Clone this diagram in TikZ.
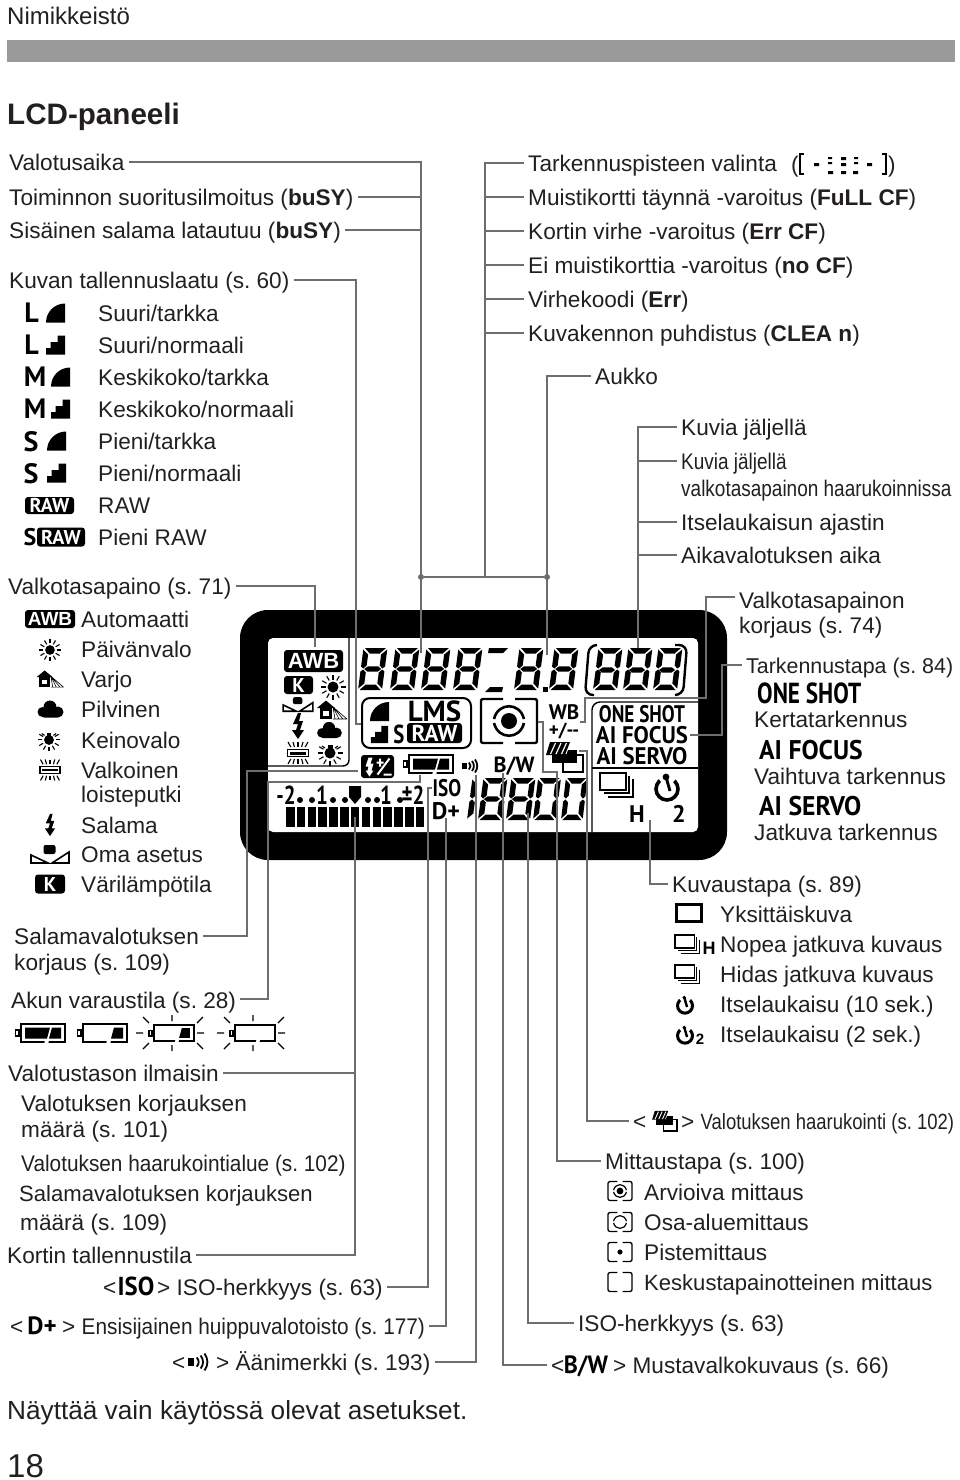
\documentclass[tikz,border=0pt]{standalone}
\usepackage{fontspec}
\usepackage{tikz}
\setmainfont{Liberation Sans}
\newfontfamily\narrowfont[FakeStretch=0.84]{Liberation Sans}
\newfontfamily\midfont[FakeStretch=0.92]{Liberation Sans}
\newfontfamily\lcdfont[FakeStretch=0.8]{PT Sans}
\newfontfamily\lcdmid[FakeStretch=0.95]{PT Sans}
\newfontfamily\lcdwide{PT Sans}
\newcommand{\fs}[1]{\fontsize{#1}{#1}\selectfont\frenchspacing}
\definecolor{ink}{HTML}{231F20}
\definecolor{linegray}{HTML}{6E6E6E}
\definecolor{bargray}{HTML}{9A9A9A}

\begin{document}
\begin{tikzpicture}[
    x=1pt, y=-1pt,
    lbl/.style={anchor=west, inner sep=0pt, text=ink, text height=16pt, text depth=0pt, font=\fs{22.6}},
    nar/.style={lbl, font=\fs{22.6}\narrowfont},
    conn/.style={draw=linegray, line width=2pt, shorten <=4pt},
    jdot/.style={circle, fill=linegray, inner sep=0pt, minimum size=6pt},
    lcdtxt/.style={inner sep=0pt, text=black, text depth=0pt, font=\fs{24}\lcdfont\bfseries},
    bigtxt/.style={inner sep=0pt, text=black, text depth=0pt, font=\fs{28}\lcdwide\bfseries},
    badge/.style={fill=black, text=white, rounded corners=3pt, inner sep=0pt, font=\fs{20}\lcdwide\bfseries},
    icfine/.pic={\fill (-9.5,9.5) .. controls (-9.5,-1) and (-1,-9.5) .. (9.5,-9.5) -- (9.5,9.5) -- cycle;},
    icnorm/.pic={\fill (-9.5,9.5) -- (-9.5,3) -- (-5,3) -- (-5,-3) -- (2,-3) -- (2,-9.5) -- (9.5,-9.5) -- (9.5,9.5) -- cycle;},
    icsun/.pic={
        \fill (0,0) circle (5.5);
        \foreach \a in {0,30,...,330} {\draw[line width=1.1pt] (\a:7.5) -- (\a:12.5);}
    },
    iclamp/.pic={
        \fill (0,1) circle (5.5);
        \fill (-2.5,-7) rectangle (2.5,-2);
        \foreach \a in {-30,0,...,210} {\draw[line width=1.1pt] ([shift={(0,1)}]\a:7.5) -- ([shift={(0,1)}]\a:12.5);}
        \draw[line width=1.1pt] (-8,-6) -- (-5,-4) (8,-6) -- (5,-4);
    },
    icshade/.pic={
        \fill (-15,-2) -- (-6,-9.5) -- (3,-2) -- cycle;
        \fill (-12,-2) rectangle (0,9);
        \fill[white] (-9,1) rectangle (-3,6);
        \draw[line width=.6pt] (1,-3) -- (3,9) (1,-3) -- (7,9) (1,-3) -- (11,9) (1,-3) -- (15,9) (1,9) -- (15,9);
    },
    iccloud/.pic={
        \fill (0,-2) circle (6.5);
        \fill (-7.5,3) circle (5);
        \fill (8,3) circle (5.5);
        \fill[rounded corners=2pt] (-8,2) rectangle (9,8.5);
    },
    icbolt/.pic={\fill (0,-13) -- (-5,-2) -- (0,-2) -- (-2,4) -- (-6,4) -- (0,13) -- (6,4) -- (2,4) -- (5,-5) -- (1,-5) -- (3,-13) -- cycle;},
    iccustom/.pic={
        \fill[rounded corners=2pt] (-6.5,-10) rectangle (5.5,-1);
        \draw[line width=1.6pt] (-19,0) -- (-19,8) -- (-2,8) -- cycle (19,-3) -- (19,8) -- (2,8) -- cycle;
    },
    icfluoro/.pic={
        \draw[line width=1.6pt] (-10.5,-3.5) rectangle (10.5,3.5);
        \fill (-8,-1.5) rectangle (8,1.5);
        \foreach \t in {-8,-4,0,4,8} {\draw[line width=1.1pt] (0.9*\t,-6) -- (1.25*\t,-11) (0.9*\t,6) -- (1.25*\t,11);}
    },
    icbattery/.pic={
        \draw[line width=1.6pt] (-24.5,-3) rectangle (-21,3);
        \draw[line width=2pt] (-19,-9) rectangle (25,9);
        \fill[white] (5,7.5) -- (9,7.5) -- (8,11) -- (4,11) -- cycle;
    },
    icbattfull/.pic={
        \fill (-15,-5.5) -- (10,-5.5) -- (7,5.5) -- (-15,5.5) -- cycle;
        \fill (12,-5.5) -- (21,-5.5) -- (21,5.5) -- (9,5.5) -- cycle;
    },
    icbattlow/.pic={\fill (12,-5.5) -- (21,-5.5) -- (21,5.5) -- (9,5.5) -- cycle;},
    icblink/.pic={\draw[line width=1.1pt] (0,-18) -- (0,-12) (0,18) -- (0,12) (-36,0) -- (-29,0) (25,0) -- (32,0)
        (-29,-16) -- (-23,-10) (25,-10) -- (31,-16) (-29,16) -- (-23,10) (25,10) -- (31,16);},
    icbeep/.pic={
        \fill (-8,-3) rectangle (-3,3);
        \draw[line width=1.8pt] (-1,-3.5) .. controls (1,-1.5) and (1,1.5) .. (-1,3.5);
        \draw[line width=1.8pt] (2,-5) .. controls (4.5,-2) and (4.5,2) .. (2,5);
        \draw[line width=1.8pt] (5,-6.5) .. controls (8,-2.5) and (8,2.5) .. (5,6.5);
    },
    pics/icbrackets/.style={code={\draw[line width=#1, rounded corners=2pt] (-6,-22) -- (-28,-22) -- (-28,22) -- (-6,22) (6,-22) -- (28,-22) -- (28,22) -- (6,22);}},
    pics/icarcs/.style={code={\draw[line width=#1] (-15,-2) .. controls (-11,-19) and (11,-19) .. (15,-2) (-15,2) .. controls (-11,19) and (11,19) .. (15,2);}},
    pics/icaeb/.style={code={
        \draw[line width=#1] (-1.5,-2) rectangle (18.5,15);
        \fill (-13,-7) rectangle (12,6);
        \fill[white] (-20,-3) -- (-15,-17) -- (7,-17) -- (2,-3) -- cycle;
        \fill (-18.5,-2) -- (-14.5,-15) -- (5.5,-15) -- (.5,-2) -- cycle;
        \draw[white, line width=.6*#1] (-14,-3) -- (-9,-14) (-8.5,-3) -- (-3.5,-14) (-3,-3) -- (2,-14);
    }},
    icsingle/.pic={\draw[line width=3pt] (-12.5,-8.5) rectangle (12.5,8.5);},
    pics/icdrive/.style={code={
        \draw[line width=#1] (-18,-14) rectangle (8,3);
        \draw[line width=.55*#1] (11,-11) -- (11,6) -- (-14,6) (15,-8) -- (15,10) -- (-10,10);
    }},
    pics/ictimer/.style={code={
        \draw[line width=#1] (0,1) circle (11);
        \fill[white] (0,1) -- (-14,-16) -- (15,-16) -- cycle;
        \fill (-1,-11) circle (.95*#1);
        \draw[line width=.8*#1] (-1,-11) -- (3,3);
    }},
    icflashcomp/.pic={
        \fill[rounded corners=3pt] (-16.5,-11.5) rectangle (16.5,11.5);
        \fill[white] (-9,-9) -- (-12,0) -- (-9,0) -- (-10,4) -- (-12,4) -- (-8,10) -- (-4,4) -- (-6,4) -- (-4,-3) -- (-7,-3) -- (-5,-9) -- cycle;
        \draw[white, line width=2pt] (-1,-4) -- (6,-4) (2.5,-8) -- (2.5,0) (0,8) -- (12,-8) (6,8) -- (14,8);
    },
    icafpoints/.pic={
        \draw[line width=2.6pt] (-39,-10) -- (-43,-10) -- (-43,10) -- (-39,10) (39,-10) -- (43,-10) -- (43,10) -- (39,10);
        \fill (-29,-1) rectangle (-24,2) (24,-1) rectangle (29,2);
        \fill (-15,-7) rectangle (-11,-5) (-15,-2) rectangle (-11,0) (-15,7) rectangle (-10,10);
        \fill (-2,-7) rectangle (3,-4) (-2,-1) rectangle (3,2) (-2,7) rectangle (3,10);
        \fill (11,-7) rectangle (15,-5) (11,-2) rectangle (15,0) (10,7) rectangle (15,10);
    },
    segzero/.pic={
        \begin{scope}[xslant=.13]
        \fill (1.5,-42) -- (22.5,-42) -- (17,-36.5) -- (7,-36.5) -- cycle;
        \fill (1.5,0) -- (22.5,0) -- (17,-5.5) -- (7,-5.5) -- cycle;
        \fill (0,-40.5) -- (5.5,-35.5) -- (5.5,-24.5) -- (2.5,-21.5) -- (0,-23.5) -- cycle;
        \fill (0,-1.5) -- (5.5,-6.5) -- (5.5,-17.5) -- (2.5,-20.5) -- (0,-18.5) -- cycle;
        \fill (24,-40.5) -- (18.5,-35.5) -- (18.5,-24.5) -- (21.5,-21.5) -- (24,-23.5) -- cycle;
        \fill (24,-1.5) -- (18.5,-6.5) -- (18.5,-17.5) -- (21.5,-20.5) -- (24,-18.5) -- cycle;
        \end{scope}
    },
    segeight/.pic={
        \pic {segzero};
        \begin{scope}[xslant=.13]
        \fill (3.5,-21) -- (7,-23.7) -- (17,-23.7) -- (20.5,-21) -- (17,-18.3) -- (7,-18.3) -- cycle;
        \end{scope}
    },
    segone/.pic={
        \begin{scope}[xslant=.13]
        \fill (0,-40.5) -- (5.5,-35.5) -- (5.5,-24.5) -- (2.5,-21.5) -- (0,-23.5) -- cycle;
        \fill (0,-1.5) -- (5.5,-6.5) -- (5.5,-17.5) -- (2.5,-20.5) -- (0,-18.5) -- cycle;
        \end{scope}
    }
]
\useasboundingbox (0,0) rectangle (960,1480);

\node[lbl, font=\fs{24}] (pageHead) at (7,17) {Nimikkeistö};
\fill[bargray] (7,40) rectangle (955,62);
\node[lbl, font=\fs{29.6}\bfseries] (pageTitle) at (7,116.5) {LCD-paneeli};
\node[lbl, font=\fs{26.2}] (pageNote) at (7,1411) {Näyttää vain käytössä olevat asetukset.};
\node[lbl, font=\fs{33}] (pageNum) at (7,1469) {18};

\fill[black, rounded corners=28pt] (240,610) rectangle (727,860);
\fill[white, rounded corners=5pt] (268,638) rectangle (698,832);
\draw[line width=1.4pt, rounded corners=6pt] (349,638) -- (349,766) -- (268,766);
\draw[line width=1.4pt, rounded corners=8pt] (698,702) -- (592,702) -- (592,832);
\draw[line width=1.4pt] (592,768) -- (698,768);
\draw[line width=2pt, rounded corners=8pt] (362,698) rectangle (471,748);

\node[badge, minimum width=59pt, minimum height=22pt, font=\fs{22}\bfseries] (lcdAwb) at (313.5,661) {AWB};
\node[badge, minimum width=29pt, minimum height=18pt] (lcdKelvin) at (298.5,685) {K};
\pic at (333,687) {icsun};
\pic[scale=.78] at (298,705) {iccustom};
\pic at (332,710) {icshade};
\pic at (298,726) {icbolt};
\pic[scale=.95] at (329,730) {iccloud};
\pic at (298,753) {icfluoro};
\pic at (330,752) {iclamp};

\foreach \px in {358,390,421,453} {\pic at (\px,690) {segeight};}
\fill (488,653) -- (489,648) -- (508,648) -- (503,653) -- cycle;
\fill (485,692) -- (490,687) -- (503,687) -- (502,692) -- cycle;
\pic at (514,690) {segeight};
\fill (543,687) rectangle (548,692);
\pic at (549,690) {segeight};
\draw[line width=2.4pt, rounded corners=8pt] (597,645) -- (589,645) -- (585,695) -- (594,695);
\draw[line width=2.4pt, rounded corners=8pt] (675,645) -- (687,645) -- (683,695) -- (675,695);
\pic[scale=.95] at (593,690) {segeight};
\pic[scale=.95] at (623,690) {segeight};
\pic[scale=.95] at (653,690) {segeight};

\pic at (379.5,711.5) {icfine};
\pic[scale=.9] at (379.5,734.5) {icnorm};
\node[bigtxt, font=\fs{29}\lcdwide\bfseries] (lcdLms) at (434.5,711) {LMS};
\node[lcdtxt, font=\fs{26}\lcdfont\bfseries] (lcdSmall) at (399,734) {S};
\node[badge, minimum width=55pt, minimum height=20pt, font=\fs{23}\lcdwide\bfseries] (lcdRaw) at (434.5,733) {RAW};
\pic at (377.5,766.5) {icflashcomp};
\pic at (428,764) {icbattery};
\pic at (428,764) {icbattfull};
\pic at (470,766) {icbeep};

\node[lcdtxt, font=\fs{26}\lcdfont\bfseries] (lcdMinusTwo) at (286,795) {-2};
\node[lcdtxt, font=\fs{26}\lcdfont\bfseries] (lcdOneLeft) at (322,795) {1};
\node[lcdtxt, font=\fs{26}\lcdfont\bfseries] (lcdOneRight) at (386,795) {1};
\node[lcdtxt, font=\fs{26}\lcdfont\bfseries] (lcdPlusTwo) at (413,795) {±2};
\fill (349,786) -- (361,786) -- (361,797) -- (355,804) -- (349,797) -- cycle;
\foreach \px in {300,312,333,345,368,377,400} {\fill (\px,800) circle (3);}
\foreach \px in {0,...,12} {\fill (286+10.83*\px,807) rectangle (294.5+10.83*\px,827);}

\node[lcdtxt] (lcdIso) at (447,788) {ISO};
\node[lcdtxt, font=\fs{24}\lcdwide\bfseries] (lcdDplus) at (446,811) {D+};
\pic at (467,820) {segone};
\pic[xscale=.95] at (478,820) {segeight};
\pic[xscale=.95] at (506,820) {segeight};
\pic[xscale=.95] at (533,820) {segzero};
\pic[xscale=.9] at (561,820) {segzero};

\pic at (509,721) {icbrackets=2.4pt};
\pic at (509,721) {icarcs=2.6pt};
\fill (509,721) circle (8);
\node[lcdtxt, font=\fs{22}\lcdwide\bfseries] (lcdBw) at (514,765) {B/W};
\node[lcdtxt, font=\fs{21}\lcdwide\bfseries] (lcdWb) at (564,712) {WB};
\node[lcdtxt, font=\fs{19}\lcdwide\bfseries] (lcdComp) at (564,730) {+/--};
\pic at (564.5,757) {icaeb=2pt};
\node[lcdtxt] (lcdOneShot) at (642,714) {ONE SHOT};
\node[lcdtxt, font=\fs{24}\lcdmid\bfseries] (lcdAiFocus) at (642,735) {AI FOCUS};
\node[lcdtxt, font=\fs{24}\lcdmid\bfseries] (lcdAiServo) at (642,756) {AI SERVO};
\pic at (618,787) {icdrive=2.3pt};
\pic at (667,788) {ictimer=3.6pt};
\node[lcdtxt, font=\fs{24}\lcdwide\bfseries] (lcdHigh) at (637,814) {H};
\node[lcdtxt, font=\fs{24}\lcdwide\bfseries] (lcdTwo) at (679,814) {2};

\node[lbl] (shutter) at (9,162) {Valotusaika};
\node[lbl] (busyAction) at (9,197) {Toiminnon suoritusilmoitus (\textbf{buSY})};
\node[lbl] (busyFlash) at (9,230) {Sisäinen salama latautuu (\textbf{buSY})};
\node[lbl] (quality) at (9,280) {Kuvan tallennuslaatu (s. 60)};

\node[bigtxt] (largeFine) at (31.5,313) {L};
\pic at (55.5,313) {icfine};
\node[bigtxt] (largeNorm) at (31.5,345) {L};
\pic at (55.5,345) {icnorm};
\node[bigtxt] (mediumFine) at (35,377) {M};
\pic at (60.5,377) {icfine};
\node[bigtxt] (mediumNorm) at (35,409) {M};
\pic at (60.5,409) {icnorm};
\node[bigtxt] (smallFine) at (31,441) {S};
\pic at (56.5,441) {icfine};
\node[bigtxt] (smallNorm) at (31,473) {S};
\pic at (56.5,473) {icnorm};
\node[badge, minimum width=49pt, minimum height=17pt] (rawBadge) at (49.5,505.5) {RAW};
\node[bigtxt, font=\fs{24}\lcdwide\bfseries] (smallRawS) at (30,537) {S};
\node[badge, minimum width=48pt, minimum height=19pt] (smallRawBadge) at (61,537) {RAW};

\node[lbl] (qualA) at (98,313) {Suuri/tarkka};
\node[lbl] (qualB) at (98,345) {Suuri/normaali};
\node[lbl] (qualC) at (98,377) {Keskikoko/tarkka};
\node[lbl] (qualD) at (98,409) {Keskikoko/normaali};
\node[lbl] (qualE) at (98,441) {Pieni/tarkka};
\node[lbl] (qualF) at (98,473) {Pieni/normaali};
\node[lbl] (qualG) at (98,505) {RAW};
\node[lbl] (qualH) at (98,537) {Pieni RAW};

\node[lbl] (wbTitle) at (8,586) {Valkotasapaino (s. 71)};
\node[badge, minimum width=50pt, minimum height=18pt, font=\fs{19}\bfseries] (awbBadge) at (50,619) {AWB};
\pic[scale=.88] at (50,650) {icsun};
\pic[scale=.9] at (50,679) {icshade};
\pic at (50,709) {iccloud};
\pic[scale=.9] at (49,739) {iclamp};
\pic[scale=.95] at (50,770) {icfluoro};
\pic[scale=.85] at (50,825) {icbolt};
\pic at (50,855) {iccustom};
\node[badge, minimum width=30pt, minimum height=19pt] (kelvinBadge) at (50,884) {K};

\node[lbl] (wbA) at (81,619) {Automaatti};
\node[lbl] (wbB) at (81,649) {Päivänvalo};
\node[lbl] (wbC) at (81,679) {Varjo};
\node[lbl] (wbD) at (81,709) {Pilvinen};
\node[lbl] (wbE) at (81,740) {Keinovalo};
\node[lbl] (wbF) at (81,770) {Valkoinen};
\node[lbl] (wbFb) at (81,794) {loisteputki};
\node[lbl] (wbG) at (81,825) {Salama};
\node[lbl] (wbH) at (81,854) {Oma asetus};
\node[lbl] (wbI) at (81,884) {Värilämpötila};

\node[lbl] (flashComp) at (14,936) {Salamavalotuksen};
\node[lbl] (flashCompB) at (14,962) {korjaus (s. 109)};
\node[lbl] (battTitle) at (11,1000) {Akun varaustila (s. 28)};
\pic at (40,1033) {icbattery};
\pic at (40,1033) {icbattfull};
\pic at (102,1033) {icbattery};
\pic at (102,1033) {icbattlow};
\pic[scale=.9] at (171,1033) {icbattery};
\pic[scale=.9] at (171,1033) {icbattlow};
\pic at (172,1033) {icblink};
\pic[scale=.9] at (252,1033) {icbattery};
\pic at (253,1033) {icblink};

\node[lbl] (meterTitle) at (8,1073) {Valotustason ilmaisin};
\node[lbl] (meterA) at (21,1103) {Valotuksen korjauksen};
\node[lbl] (meterB) at (21,1129) {määrä (s. 101)};
\node[lbl, font=\fs{22.6}\midfont] (meterC) at (21,1163) {Valotuksen haarukointialue (s. 102)};
\node[lbl, font=\fs{22.1}] (meterD) at (19,1193) {Salamavalotuksen korjauksen};
\node[lbl] (meterE) at (20,1222) {määrä (s. 109)};
\node[lbl] (cardTitle) at (7,1255) {Kortin tallennustila};

\node[lbl] (isoLt) at (103,1287) {<};
\node[lcdtxt, font=\fs{26}\lcdmid\bfseries] (isoIcon) at (136,1286) {ISO};
\node[lbl] (isoLabel) at (157,1287) {> ISO-herkkyys (s. 63)};
\node[lbl] (dplusLt) at (10,1326) {<};
\node[lcdtxt, font=\fs{25}\lcdwide\bfseries] (dplusIcon) at (42,1326) {D+};
\node[lbl] (dplusLabel) at (62,1326) {> {\midfont Ensisijainen huippuvalotoisto (s. 177)}};
\node[lbl] (beepLt) at (172,1362) {<};
\pic[scale=1.3] at (198,1362) {icbeep};
\node[lbl] (beepLabel) at (216,1362) {> Äänimerkki (s. 193)};

\node[lbl] (focusPoints) at (528,163) {Tarkennuspisteen valinta};
\node[lbl] (afOpen) at (791,164) {(};
\pic at (843,164) {icafpoints};
\node[lbl] (afClose) at (888,164) {)};
\node[lbl] (warnFull) at (528,197) {Muistikortti täynnä -varoitus (\textbf{FuLL CF})};
\node[lbl] (warnErr) at (528,231) {Kortin virhe -varoitus (\textbf{Err CF})};
\node[lbl] (warnNoCard) at (528,265) {Ei muistikorttia -varoitus (\textbf{no CF})};
\node[lbl] (errCode) at (528,299) {Virhekoodi (\textbf{Err})};
\node[lbl] (sensorClean) at (528,333) {Kuvakennon puhdistus (\textbf{CLEA n})};
\node[lbl] (aperture) at (595,376) {Aukko};

\node[lbl] (remaining) at (681,427) {Kuvia jäljellä};
\node[nar] (remainingWb) at (681,461) {Kuvia jäljellä};
\node[nar] (remainingWbB) at (681,488) {valkotasapainon haarukoinnissa};
\node[lbl] (timerCount) at (681,522) {Itselaukaisun ajastin};
\node[lbl] (bulbTime) at (681,555) {Aikavalotuksen aika};

\node[lbl] (wbShift) at (739,600) {Valkotasapainon};
\node[lbl] (wbShiftB) at (739,625) {korjaus (s. 74)};
\node[lbl, font=\fs{21.4}] (afMode) at (746,665) {Tarkennustapa (s. 84)};
\node[lcdtxt, font=\fs{29}\lcdfont\bfseries, anchor=west] (oneShot) at (757,693) {ONE SHOT};
\node[lbl] (oneShotB) at (754,719) {Kertatarkennus};
\node[lcdtxt, font=\fs{27}\lcdmid\bfseries, anchor=west] (aiFocus) at (759,750) {AI FOCUS};
\node[lbl] (aiFocusB) at (754,776) {Vaihtuva tarkennus};
\node[lcdtxt, font=\fs{27}\lcdmid\bfseries, anchor=west] (aiServo) at (759,806) {AI SERVO};
\node[lbl] (aiServoB) at (754,832) {Jatkuva tarkennus};

\node[lbl] (driveTitle) at (672,884) {Kuvaustapa (s. 89)};
\pic at (688.5,913) {icsingle};
\pic[scale=.75] at (688.5,945.5) {icdrive=1.8pt};
\node[lcdtxt, font=\fs{18}\bfseries] (driveHigh) at (709,948) {H};
\pic[scale=.75] at (688.5,975.5) {icdrive=1.8pt};
\pic[scale=.68] at (685,1005) {ictimer=3pt};
\pic[scale=.68] at (685,1035) {ictimer=3pt};
\node[lcdtxt, font=\fs{15}\bfseries] (timerTwo) at (700,1039) {2};
\node[lbl] (driveA) at (720,914) {Yksittäiskuva};
\node[lbl] (driveB) at (720,944) {Nopea jatkuva kuvaus};
\node[lbl] (driveC) at (720,974) {Hidas jatkuva kuvaus};
\node[lbl] (driveD) at (720,1004) {Itselaukaisu (10 sek.)};
\node[lbl] (driveE) at (720,1034) {Itselaukaisu (2 sek.)};

\node[lbl] (aebLt) at (633,1121) {<};
\pic[scale=.67] at (664.5,1121) {icaeb=1.5pt};
\node[lbl] (aebLabel) at (681,1121) {> {\fs{22}\narrowfont Valotuksen haarukointi (s. 102)}};
\node[lbl] (meterMode) at (605,1161) {Mittaustapa (s. 100)};
\pic[scale=.43] at (620,1191) {icbrackets=1.3pt};
\pic[scale=.43] at (620,1191) {icarcs=1.2pt};
\fill (620,1191) circle (3.4);
\pic[scale=.43] at (620,1222) {icbrackets=1.3pt};
\pic[scale=.43] at (620,1222) {icarcs=1.2pt};
\pic[scale=.43] at (620,1252) {icbrackets=1.3pt};
\fill (620,1252) circle (2.6);
\pic[scale=.43] at (620,1282) {icbrackets=1.3pt};
\node[lbl] (modeA) at (644,1192) {Arvioiva mittaus};
\node[lbl] (modeB) at (644,1222) {Osa-aluemittaus};
\node[lbl] (modeC) at (644,1252) {Pistemittaus};
\node[lbl, font=\fs{22.06}] (modeD) at (644,1282) {Keskustapainotteinen mittaus};
\node[lbl] (isoRight) at (578,1323) {ISO-herkkyys (s. 63)};
\node[lbl] (bwLt) at (551,1365) {<};
\node[lcdtxt, font=\fs{25}\lcdmid\bfseries] (bwIcon) at (586,1365) {B/W};
\node[lbl] (bwLabel) at (613,1365) {> Mustavalkokuvaus (s. 66)};

\coordinate (tipShutter) at (421,653);
\coordinate (tipQuality) at (356,724);
\coordinate (tipQualityEnd) at (361,724);
\coordinate (tipWb) at (315,647);
\coordinate (bendFlash) at (247,771);
\coordinate (tipFlash) at (358,771);
\coordinate (bendBatt) at (268,782);
\coordinate (tipBatt) at (420,775);
\coordinate (tipMeter) at (355,817);
\coordinate (bendIso) at (428,788);
\coordinate (tipIso) at (432,788);
\coordinate (tipDplus) at (446,818);
\coordinate (tipBeep) at (476,775);
\coordinate (tipBw) at (503,773);
\coordinate (tipIsoDigits) at (528,813);
\coordinate (bendModeA) at (557,772);
\coordinate (bendModeB) at (543,722);
\coordinate (tipMode) at (538,722);
\coordinate (bendAeb) at (587,751);
\coordinate (tipAeb) at (579,751);
\coordinate (tipDrive) at (650,820);
\coordinate (tipRemaining) at (638,648);
\coordinate (tipGroup) at (485,577);
\coordinate (tipAperture) at (547,655);
\coordinate (bendShiftA) at (706,698);
\coordinate (bendShiftB) at (585,722);
\coordinate (tipShift) at (580,722);
\coordinate (bendAf) at (722,735);
\coordinate (tipAf) at (690,735);

\node[jdot] (dotLeft) at (421,577) {};
\node[jdot] (dotRight) at (547,577) {};

\draw[conn] (shutter) -| (tipShutter);
\draw[conn] (busyAction) -- (busyAction -| tipShutter);
\draw[conn] (busyFlash) -- (busyFlash -| tipShutter);
\draw[conn] (quality) -| (tipQuality) -- (tipQualityEnd);
\draw[conn] (wbTitle) -| (tipWb);
\draw[conn] (flashComp) -| (bendFlash) -- (tipFlash);
\draw[conn] ([yshift=1pt]battTitle.east) -| (bendBatt) -| (tipBatt);
\draw[conn] (meterTitle) -| (tipMeter);
\draw[conn] (cardTitle) -| (tipMeter);
\draw[conn] (isoLabel) -| (bendIso) -- (tipIso);
\draw[conn] (dplusLabel) -| (tipDplus);
\draw[conn] (beepLabel) -| (tipBeep);
\draw[conn] (bwLt) -| (tipBw);
\draw[conn] (isoRight) -| (tipIsoDigits);
\draw[conn] (meterMode) -| (bendModeA) -| (bendModeB) -- (tipMode);
\draw[conn] (aebLt) -| (bendAeb) -- (tipAeb);
\draw[conn] (driveTitle) -| (tipDrive);
\draw[conn] (remaining) -| (tipRemaining);
\draw[conn] (remainingWb) -- (remainingWb -| tipRemaining);
\draw[conn] (timerCount) -- (timerCount -| tipRemaining);
\draw[conn] (bulbTime) -- (bulbTime -| tipRemaining);
\draw[conn] (focusPoints) -| (tipGroup);
\draw[conn] (warnFull) -- (warnFull -| tipGroup);
\draw[conn] (warnErr) -- (warnErr -| tipGroup);
\draw[conn] (warnNoCard) -- (warnNoCard -| tipGroup);
\draw[conn] (errCode) -- (errCode -| tipGroup);
\draw[conn] (sensorClean) -- (sensorClean -| tipGroup);
\draw[conn] (aperture) -| (tipAperture);
\draw[conn, shorten <=0pt] (dotLeft) -- (dotRight);
\draw[conn] ([yshift=3pt]wbShift.west) -| (bendShiftA) -| (bendShiftB) -- (tipShift);
\draw[conn] (afMode) -| (bendAf) -- (tipAf);

\end{tikzpicture}
\end{document}
